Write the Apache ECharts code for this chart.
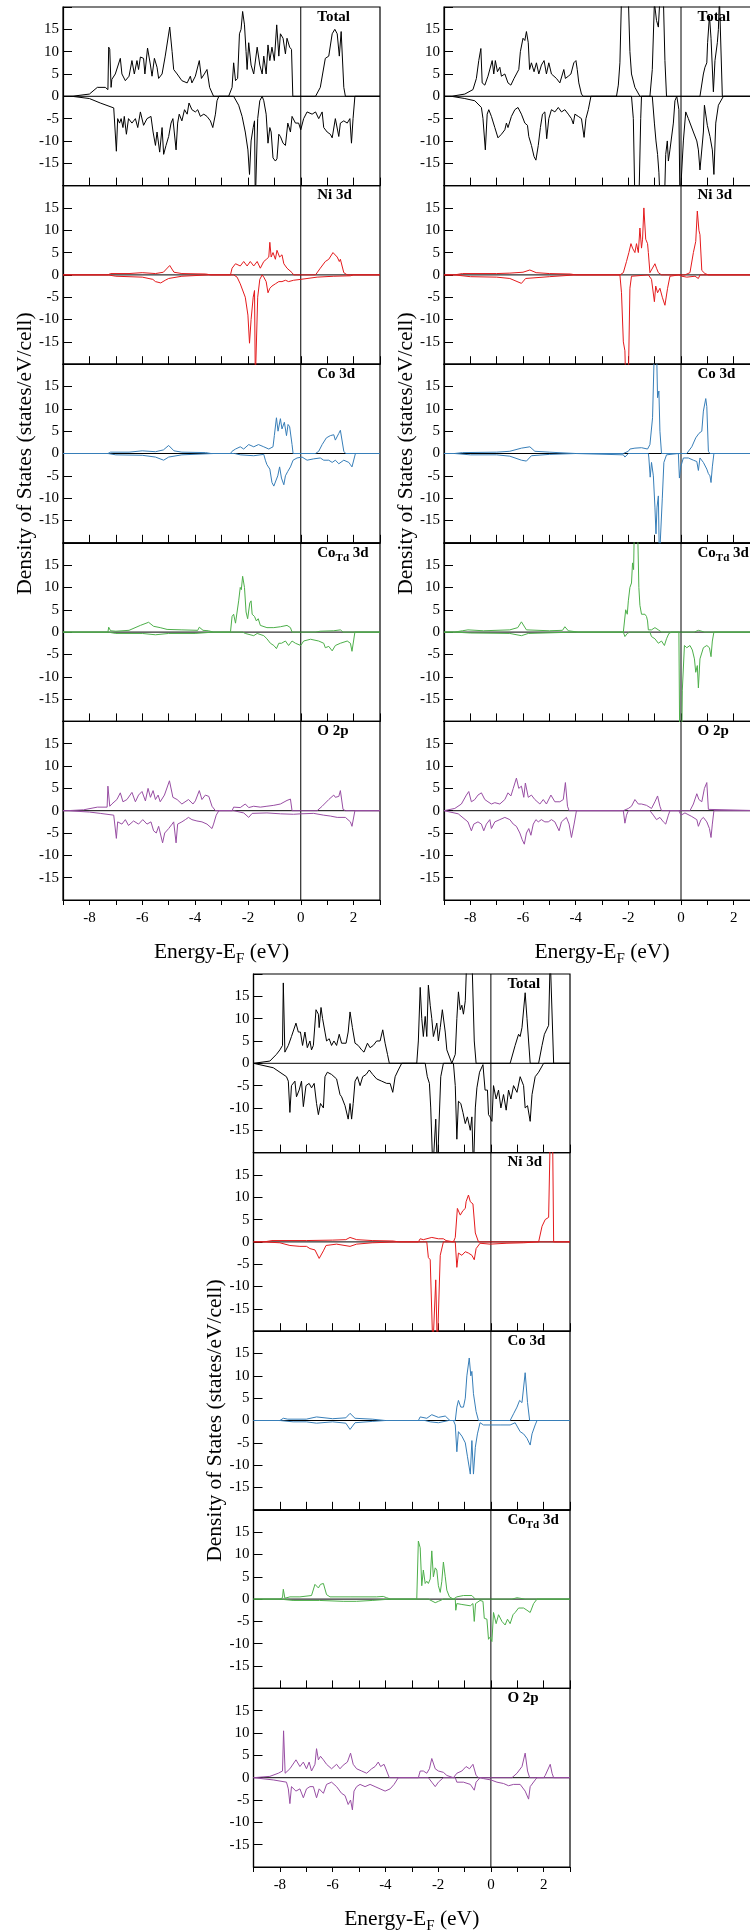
<!DOCTYPE html>
<html lang="en">
<head>
    <meta charset="utf-8">
    <title>Density of States</title>
    <script src="https://cdn.jsdelivr.net/npm/echarts@6/dist/echarts.min.js"></script>
    <style>
        html, body { margin: 0; padding: 0; background: #fff; }
        #main { width: 750px; height: 1930px; }
    </style>
</head>
<body>
<div id="main"></div>
<script>
    // ---- panel A (top left) : [energy, DOS] ----
    var aTotalUp = [[-9,0],[-8.66,0],[-8.0,0.5],[-7.7,2],[-7.4,2],[-7.3,1.5],[-7.27,11],[-7.23,10.5],[-7.18,2],[-7.15,3.8],[-7.02,5],[-6.83,8.5],[-6.77,5],[-6.64,3.5],[-6.5,4.5],[-6.39,8],[-6.3,5],[-6.2,8],[-6.14,6],[-6.07,8.8],[-5.95,8.5],[-5.9,5],[-5.8,10.8],[-5.69,7],[-5.63,4.5],[-5.54,8.5],[-5.44,6.5],[-5.38,4],[-5.25,5],[-5.13,9],[-4.96,15.5],[-4.87,10],[-4.81,6],[-4.68,5],[-4.5,3.5],[-4.3,3],[-4.18,4.5],[-4.12,3],[-3.99,4.5],[-3.84,8],[-3.76,4],[-3.65,5],[-3.55,6],[-3.45,2],[-3.3,0],[-2.73,0],[-2.6,2],[-2.54,7.5],[-2.47,3.5],[-2.39,4],[-2.32,14],[-2.26,15],[-2.2,19],[-2.13,16],[-2.07,10],[-2.03,6],[-1.97,12],[-1.88,7],[-1.78,5],[-1.65,11],[-1.55,7],[-1.46,5],[-1.4,9],[-1.31,5],[-1.24,11.5],[-1.17,8],[-1.09,11],[-1.0,8],[-0.91,16],[-0.83,9],[-0.77,14],[-0.67,13],[-0.58,9.5],[-0.52,13],[-0.42,11],[-0.35,10.5],[-0.3,0],[0.56,0],[0.74,2],[0.93,8.5],[1.06,9],[1.19,14],[1.29,15],[1.38,14],[1.46,9],[1.53,14.5],[1.63,2],[1.69,0],[3,0]];
    var aTotalDn = [[-9,0],[-8.66,0],[-8.0,-0.5],[-7.59,-1.5],[-7.08,-2.6],[-7.02,-3],[-6.98,-12.3],[-6.93,-5],[-6.86,-6],[-6.8,-5],[-6.73,-7],[-6.68,-4.5],[-6.6,-8.5],[-6.52,-5],[-6.39,-6],[-6.26,-5],[-6.17,-7],[-6.07,-3.5],[-5.95,-6.5],[-5.82,-5],[-5.67,-4.5],[-5.59,-8],[-5.5,-11],[-5.44,-8],[-5.34,-12.5],[-5.25,-7],[-5.19,-13],[-5.1,-11],[-5.0,-9],[-4.91,-6],[-4.84,-5],[-4.72,-12],[-4.66,-6],[-4.6,-4],[-4.5,-5.5],[-4.4,-3],[-4.3,-4],[-4.23,-1.5],[-4.12,-3],[-3.99,-3.5],[-3.9,-3],[-3.8,-4.5],[-3.67,-4],[-3.55,-4.5],[-3.42,-5.5],[-3.33,-7],[-3.23,-4],[-3.17,-1],[-3.1,0],[-2.54,0],[-2.35,-2],[-2.22,-4.5],[-2.1,-8],[-2.0,-12],[-1.94,-17.5],[-1.88,-10],[-1.8,-7],[-1.75,-5.5],[-1.72,-24],[-1.68,-24],[-1.63,-5],[-1.55,-1],[-1.46,0],[-1.4,-1],[-1.31,-4],[-1.24,-10.5],[-1.17,-7],[-1.12,-8],[-1.05,-13.8],[-0.96,-14.5],[-0.9,-14],[-0.83,-8.5],[-0.77,-9],[-0.67,-10.5],[-0.58,-11],[-0.49,-6],[-0.39,-8],[-0.33,-4.5],[-0.2,-6],[-0.08,-6],[0,-7.5],[0.11,-5],[0.24,-3.5],[0.43,-4],[0.56,-3.5],[0.68,-5],[0.81,-3.5],[0.87,-7],[1.0,-8],[1.12,-8.5],[1.19,-9.3],[1.31,-5],[1.44,-9],[1.5,-6],[1.63,-5.5],[1.76,-6],[1.86,-5],[1.92,-10.5],[1.98,-5],[2.05,0],[3,0]];
    var aNiUp = [[-9,0],[-7.3,0],[-7.2,0.3],[-6.5,0.3],[-6.0,0.5],[-5.5,0.3],[-5.2,0.6],[-4.96,2.1],[-4.8,0.6],[-4.5,0.3],[-3.6,0.2],[-3.4,0],[-2.66,0],[-2.6,1.5],[-2.47,2.5],[-2.29,2],[-2.16,3],[-2.03,2],[-1.91,3],[-1.78,2],[-1.65,3],[-1.53,1.5],[-1.4,3],[-1.3,3.5],[-1.21,4],[-1.17,7.3],[-1.12,4],[-1.05,5],[-0.96,3.5],[-0.9,5.5],[-0.8,4],[-0.71,4.5],[-0.64,2.5],[-0.52,1.5],[-0.33,0.5],[-0.27,0],[0.56,0],[0.74,1.5],[0.93,3],[1.06,3.5],[1.22,5],[1.38,4],[1.46,3],[1.5,3.5],[1.63,0.5],[1.76,0],[3,0]];
    var aNiDn = [[-9,0],[-7.3,0],[-7.0,-0.3],[-6.0,-0.5],[-5.6,-1],[-5.5,-1.5],[-5.3,-1.8],[-5.13,-1.2],[-5.0,-0.8],[-4.5,-0.3],[-3.5,0],[-2.54,0],[-2.41,-0.5],[-2.29,-2],[-2.1,-5],[-2.0,-9],[-1.94,-15.3],[-1.88,-10],[-1.8,-5],[-1.75,-3.5],[-1.72,-24],[-1.68,-24],[-1.63,-5],[-1.55,-1],[-1.46,0],[-1.4,-0.5],[-1.31,-1.5],[-1.24,-4],[-1.17,-3],[-1.09,-2.5],[-0.96,-2],[-0.83,-1.5],[-0.71,-1.5],[-0.58,-1.2],[-0.46,-1.5],[-0.27,-1.2],[0,-1],[0.62,-0.5],[1.25,-0.3],[1.88,-0.2],[2.0,0],[3,0]];
    var aCoUp = [[-9,0],[-7.3,0],[-7.2,0.3],[-6.5,0.3],[-6.0,0.6],[-5.5,0.4],[-5.2,0.8],[-5.0,1.8],[-4.8,0.6],[-4.5,0.3],[-3.6,0.2],[-3.4,0],[-2.66,0],[-2.6,0.5],[-2.47,1],[-2.29,1.5],[-2.16,1],[-1.97,2],[-1.78,1.5],[-1.6,2],[-1.4,1.5],[-1.21,1],[-1.05,1.5],[-1.0,4],[-0.92,8],[-0.86,5],[-0.77,7.8],[-0.71,5.5],[-0.62,7],[-0.54,4],[-0.48,6.5],[-0.42,6],[-0.33,2],[-0.29,0],[0.56,0],[0.68,0.5],[0.81,2],[0.97,3.5],[1.12,4],[1.25,4.2],[1.31,3],[1.44,4.5],[1.5,5.2],[1.63,0.5],[1.7,0],[3,0]];
    var aCoDn = [[-9,0],[-7.3,0],[-7.0,-0.3],[-6.0,-0.4],[-5.5,-0.8],[-5.19,-1.5],[-5.0,-0.8],[-4.5,-0.3],[-3.3,0],[-2.5,0],[-2.29,-0.3],[-1.78,-0.5],[-1.4,-0.2],[-1.34,-1.5],[-1.28,-2.5],[-1.17,-3.5],[-1.09,-6.5],[-1.02,-7.3],[-0.96,-7],[-0.87,-5],[-0.8,-3],[-0.73,-5.5],[-0.64,-7],[-0.58,-5],[-0.49,-4],[-0.39,-3],[-0.29,-1.5],[-0.14,-1],[0.05,-0.8],[0.24,-1.5],[0.49,-1.2],[0.74,-1],[0.87,-1.5],[1.06,-1.5],[1.19,-2],[1.31,-1.5],[1.44,-2.3],[1.63,-1.5],[1.82,-2],[1.88,-2.5],[1.94,-3],[2.07,0],[3,0]];
    var aCoTdUp = [[-9,0],[-7.3,0],[-7.27,1.1],[-7.2,0.3],[-7.0,0.2],[-6.5,0.4],[-6.07,1.5],[-5.76,2.2],[-5.57,1.3],[-5.32,1],[-5.06,0.6],[-4.5,0.5],[-3.9,0.4],[-3.84,1.1],[-3.7,0.4],[-3.5,0.3],[-3.3,0],[-2.66,0],[-2.6,3.5],[-2.54,4],[-2.47,2],[-2.35,7],[-2.29,10],[-2.25,9.5],[-2.2,12.5],[-2.13,10],[-2.07,4.5],[-2.01,3],[-1.93,6.5],[-1.88,7],[-1.84,4],[-1.75,3.5],[-1.68,2.5],[-1.61,3],[-1.53,1.5],[-1.28,1],[-1.02,1],[-0.77,1.2],[-0.52,1.5],[-0.39,1],[-0.33,0],[0.56,0],[0.74,0.2],[1.25,0.3],[1.5,0.5],[1.6,0],[3,0]];
    var aCoTdDn = [[-9,0],[-7.3,0],[-7.0,-0.3],[-6.0,-0.3],[-5.5,-0.6],[-5.0,-0.3],[-4.0,-0.3],[-3.3,0],[-2.2,0],[-2.1,-0.3],[-1.78,-0.8],[-1.65,-0.3],[-1.4,-0.8],[-1.28,-1.5],[-1.15,-2.5],[-1.02,-3],[-0.92,-3.7],[-0.83,-2.5],[-0.73,-2.5],[-0.58,-2],[-0.46,-3],[-0.33,-2],[-0.2,-2.5],[0,-3],[0.11,-2],[0.37,-1.6],[0.68,-2],[0.87,-2.5],[0.93,-3.5],[1.06,-3.2],[1.19,-4.2],[1.31,-3],[1.5,-2.5],[1.76,-2],[1.88,-2.5],[1.94,-4.3],[2.05,0],[3,0]];
    var aOUp = [[-9,0],[-8.85,0],[-8.22,0.2],[-7.7,0.8],[-7.33,0.8],[-7.3,5.5],[-7.23,1],[-7.15,1.5],[-6.96,2.5],[-6.83,4],[-6.73,2],[-6.58,2.5],[-6.39,4.1],[-6.26,2],[-6.14,3.5],[-6.01,4.3],[-5.88,2.2],[-5.78,5],[-5.69,3],[-5.59,4.5],[-5.5,2.5],[-5.4,3.5],[-5.32,2],[-5.16,3.5],[-4.97,6.7],[-4.84,3],[-4.68,2.5],[-4.5,1.5],[-4.25,2.5],[-4.08,1.5],[-3.99,2.2],[-3.84,4.5],[-3.74,2.5],[-3.61,3.5],[-3.48,3.2],[-3.36,1],[-3.23,0],[-2.6,0],[-2.54,0.8],[-2.29,0.7],[-2.1,1.5],[-1.97,0.7],[-1.78,1],[-1.53,0.8],[-1.28,1],[-1.02,1.2],[-0.77,1.5],[-0.52,2.3],[-0.39,2.6],[-0.33,0],[0.62,0],[0.81,1],[1.06,2.5],[1.25,3.5],[1.31,3],[1.44,3.2],[1.5,4.5],[1.6,0.3],[1.69,0],[3,0]];
    var aODn = [[-9,0],[-8.85,0],[-8.0,-0.3],[-7.59,-0.6],[-7.08,-1],[-6.98,-6.2],[-6.93,-2.5],[-6.77,-3],[-6.64,-2],[-6.52,-3.3],[-6.33,-2.3],[-6.14,-3],[-5.98,-2],[-5.82,-3],[-5.67,-2.5],[-5.57,-4.5],[-5.47,-5],[-5.38,-3.5],[-5.23,-7.2],[-5.15,-5],[-5.0,-4],[-4.87,-3],[-4.81,-2.5],[-4.72,-7.2],[-4.66,-3],[-4.5,-2.5],[-4.37,-2],[-4.25,-1.5],[-4.12,-2],[-3.93,-2.3],[-3.74,-2.5],[-3.55,-3],[-3.36,-4],[-3.3,-3],[-3.2,-1],[-3.1,0],[-2.54,0],[-2.16,-0.5],[-1.97,-1.5],[-1.84,-0.6],[-1.28,-0.5],[-0.77,-0.7],[-0.27,-0.8],[0,-0.7],[0.49,-0.6],[0.87,-1],[1.12,-1.2],[1.38,-1.5],[1.69,-1.5],[1.88,-2.5],[1.94,-3.5],[2.05,0],[3,0]];

    // ---- panel B (top right) ----
    var bTotalUp = [[-9,0],[-8.72,0],[-8.21,0.5],[-7.9,1.5],[-7.77,4],[-7.68,8],[-7.6,10.7],[-7.55,3],[-7.45,2.5],[-7.33,4.5],[-7.17,8],[-7.11,5],[-7.05,8],[-6.97,5.5],[-6.88,6.5],[-6.82,4.5],[-6.69,5],[-6.57,3],[-6.46,2.5],[-6.34,4],[-6.25,5],[-6.16,6],[-6.1,10],[-6.0,13],[-5.93,12.5],[-5.87,14.5],[-5.8,12],[-5.75,6],[-5.68,7.5],[-5.58,5.5],[-5.49,7.5],[-5.4,5],[-5.3,7],[-5.2,8],[-5.11,5],[-5.02,7.5],[-4.92,5],[-4.73,4],[-4.6,3],[-4.45,6],[-4.39,4],[-4.28,4.5],[-4.18,5],[-4.07,7.5],[-3.99,8],[-3.94,6],[-3.88,3],[-3.78,0.5],[-3.71,0],[-2.45,0],[-2.38,2.5],[-2.32,7.5],[-2.26,22],[-2.1,26],[-2.0,22],[-1.94,10],[-1.88,5],[-1.75,2],[-1.56,0],[-1.18,0],[-1.09,6],[-1.01,21],[-0.93,17],[-0.86,15.5],[-0.8,22],[-0.67,22],[-0.61,8],[-0.55,0],[0.72,0],[0.85,5],[0.91,6.5],[0.98,7.5],[1.01,12],[1.08,18],[1.14,13],[1.23,1],[1.29,8],[1.38,12],[1.42,15],[1.46,22],[1.51,22],[1.57,0],[3,0]];
    var bTotalDn = [[-9,0],[-8.72,0],[-8.21,-0.5],[-7.83,-1],[-7.58,-2.5],[-7.52,-5],[-7.43,-12],[-7.36,-4],[-7.3,-3],[-7.2,-4.5],[-7.07,-7],[-6.95,-9.3],[-6.82,-8.5],[-6.69,-7.5],[-6.63,-6],[-6.57,-7],[-6.44,-4.5],[-6.31,-3],[-6.19,-2.5],[-6.06,-4],[-5.93,-6],[-5.83,-6.5],[-5.78,-9],[-5.68,-11],[-5.58,-13.5],[-5.51,-14.3],[-5.42,-11],[-5.34,-7],[-5.26,-4],[-5.17,-3.5],[-5.1,-9.5],[-5.02,-5],[-4.92,-3],[-4.79,-3.5],[-4.66,-2.5],[-4.54,-3.5],[-4.41,-3],[-4.28,-4],[-4.16,-5],[-4.09,-6.2],[-4.03,-4],[-3.9,-4.5],[-3.78,-5],[-3.68,-9.2],[-3.61,-5],[-3.52,-3],[-3.42,0],[-1.88,0],[-1.81,-5],[-1.75,-24],[-1.6,-24],[-1.53,-5],[-1.5,0],[-1.09,0],[-1.01,-6],[-0.95,-10],[-0.89,-13],[-0.84,-17],[-0.79,-24],[-0.63,-24],[-0.58,-13],[-0.52,-10],[-0.48,-14.5],[-0.42,-12],[-0.29,-6],[-0.23,-1],[-0.16,0],[-0.08,-3],[-0.04,-24],[0.03,-24],[0.09,-10],[0.18,-3.5],[0.28,-5],[0.47,-8],[0.6,-10],[0.66,-12],[0.72,-16.5],[0.85,-8],[0.89,-2],[1.0,-6.5],[1.1,-9],[1.19,-12],[1.25,-17.5],[1.32,-6],[1.42,-2],[1.61,0],[3,0]];
    var bNiUp = [[-9,0],[-8.6,0],[-8.3,0.3],[-7,0.3],[-6.5,0.4],[-6.0,0.6],[-5.74,1.1],[-5.5,0.5],[-5.0,0.3],[-4.2,0.2],[-4.0,0],[-2.32,0],[-2.19,0.5],[-2.07,3],[-1.98,5],[-1.9,7],[-1.84,6],[-1.75,5],[-1.69,7],[-1.62,5],[-1.56,10.5],[-1.5,6],[-1.46,8],[-1.41,15],[-1.34,8],[-1.27,7],[-1.24,5],[-1.18,0.5],[-0.99,2.5],[-0.93,1.5],[-0.86,0.5],[-0.74,0],[0.15,0],[0.34,0.5],[0.47,5],[0.56,7.5],[0.62,14.3],[0.68,10],[0.72,9],[0.79,1],[0.91,0.3],[1.04,0],[3,0]];
    var bNiDn = [[-9,0],[-8.6,0],[-8.0,-0.4],[-7.0,-0.5],[-6.5,-0.8],[-6.06,-1.9],[-5.9,-0.8],[-5.0,-0.4],[-4.0,0],[-2.32,0],[-2.26,-4],[-2.19,-15],[-2.13,-17],[-2.1,-24],[-2.0,-24],[-1.94,-3],[-1.88,-0.3],[-1.24,0],[-1.12,-1],[-1.01,-6],[-0.96,-2.5],[-0.89,-4],[-0.8,-3],[-0.71,-5],[-0.61,-6.8],[-0.51,-3],[-0.42,-0.3],[-0.36,0],[-0.08,0],[0.03,-0.3],[0.22,-0.5],[0.53,-0.3],[0.66,-0.8],[0.72,0],[3,0]];
    var bCoUp = [[-9,0],[-8.6,0],[-8.3,0.2],[-7,0.3],[-6.5,0.5],[-6.06,1.2],[-5.74,1.5],[-5.55,0.5],[-5.0,0.3],[-4.0,0],[-2.19,0],[-2.0,0.5],[-1.94,1],[-1.75,1.2],[-1.5,1.3],[-1.27,1],[-1.18,2],[-1.08,8],[-1.01,24],[-0.93,24],[-0.89,12.5],[-0.84,14],[-0.8,5],[-0.74,0],[0.22,0],[0.41,1.5],[0.56,3.5],[0.68,4.5],[0.79,5],[0.85,9.5],[0.94,12.3],[0.98,10.5],[1.04,0.5],[1.1,0],[3,0]];
    var bCoDn = [[-9,0],[-8.6,0],[-8.0,-0.3],[-7.0,-0.3],[-6.5,-0.6],[-6.06,-1.5],[-5.87,-1.7],[-5.68,-0.5],[-5.0,-0.2],[-4.0,0],[-2.19,-0.3],[-2.13,-0.8],[-2.0,0],[-1.24,0],[-1.22,-1],[-1.17,-5.3],[-1.12,-2],[-1.05,-5],[-0.99,-12],[-0.95,-18],[-0.91,-12],[-0.86,-9.5],[-0.82,-24],[-0.76,-24],[-0.71,-10],[-0.65,-2],[-0.55,-0.3],[-0.48,0],[-0.1,0],[-0.06,-5.5],[-0.01,-3],[0.09,-1],[0.28,-1],[0.47,-1.5],[0.6,-1.8],[0.66,-3.8],[0.72,-1],[0.85,-2],[0.98,-3.5],[1.04,-4.5],[1.1,-5],[1.14,-6.5],[1.19,-3],[1.25,0],[3,0]];
    var bCoTdUp = [[-9,0],[-8.6,0],[-8.3,0.3],[-8.09,0.5],[-7.5,0.3],[-6.5,0.5],[-6.2,1],[-6.06,2.3],[-5.87,0.5],[-5.0,0.3],[-4.5,0.4],[-4.41,1.2],[-4.28,0.3],[-3.9,0],[-2.19,0],[-2.1,5],[-2.04,4],[-2.0,7],[-1.94,10],[-1.88,11],[-1.84,15.5],[-1.8,14],[-1.77,24],[-1.65,24],[-1.6,10],[-1.56,6],[-1.5,4],[-1.37,4],[-1.31,3.5],[-1.27,2.5],[-1.24,0.5],[-1.12,0.5],[-0.99,1],[-0.86,0.5],[-0.74,0],[0.5,0],[0.66,0.4],[0.9,0],[3,0]];
    var bCoTdDn = [[-9,0],[-8.6,0],[-8.0,-0.2],[-6.5,-0.3],[-6.06,-0.8],[-5.8,-0.3],[-4.0,0],[-2.19,0],[-2.13,-1],[-2.04,-0.3],[-1.95,0],[-1.18,0],[-1.12,-1],[-0.99,-1.5],[-0.86,-2.5],[-0.74,-2],[-0.63,-3],[-0.55,-1.5],[-0.46,-0.3],[-0.36,0],[-0.08,0],[-0.05,-24],[0.03,-24],[0.05,-13],[0.13,-3],[0.22,-3.5],[0.34,-3],[0.43,-4],[0.51,-6],[0.56,-9],[0.62,-7.5],[0.66,-12.5],[0.72,-6],[0.85,-3.5],[0.98,-3],[1.08,-3.5],[1.14,-5.5],[1.19,-2],[1.25,0],[3,0]];
    var bOUp = [[-9,0],[-8.97,0],[-8.59,0.5],[-8.34,1.5],[-8.15,3.5],[-8.06,4.3],[-7.96,2],[-7.83,2.5],[-7.71,3.5],[-7.58,4],[-7.45,2.5],[-7.33,2],[-7.2,1.5],[-7.07,1.8],[-6.88,1.5],[-6.69,2.5],[-6.57,4],[-6.46,3.3],[-6.37,5],[-6.25,7.3],[-6.16,5],[-6.06,5.5],[-5.97,3],[-5.91,6.2],[-5.8,3],[-5.68,3.5],[-5.55,2.5],[-5.36,1.5],[-5.23,2.5],[-5.11,1.5],[-4.94,3.5],[-4.79,2],[-4.6,2],[-4.47,2.5],[-4.39,6.3],[-4.31,1],[-4.25,0],[-2.19,0],[-2.0,0.5],[-1.88,1],[-1.75,2.5],[-1.62,1.5],[-1.5,1.5],[-1.31,1.2],[-1.12,0.5],[-0.99,2],[-0.89,3.3],[-0.8,1],[-0.74,0],[0.34,0],[0.47,1.5],[0.6,3.8],[0.68,2.5],[0.79,2],[0.89,5],[0.98,6.3],[1.04,0.3],[1.1,0],[3,0]];
    var bODn = [[-9,0],[-8.97,0],[-8.46,-0.7],[-8.09,-2.5],[-7.96,-4.5],[-7.87,-3],[-7.71,-2.5],[-7.58,-3],[-7.49,-4.5],[-7.39,-3],[-7.26,-2],[-7.2,-4],[-7.07,-2.5],[-6.88,-2],[-6.69,-1.5],[-6.5,-2],[-6.37,-3],[-6.25,-3.5],[-6.12,-5],[-6.03,-6.5],[-5.95,-7.5],[-5.87,-5],[-5.78,-4],[-5.7,-5.5],[-5.61,-3],[-5.51,-2],[-5.42,-2.5],[-5.3,-2],[-5.17,-2.5],[-5.04,-2.5],[-4.92,-2],[-4.79,-2.5],[-4.63,-4.5],[-4.54,-2.5],[-4.35,-1.5],[-4.25,-3],[-4.16,-6],[-4.06,-3],[-3.97,0],[-2.19,0],[-2.13,-2.8],[-2.07,-1],[-2.0,0],[-1.18,0],[-1.05,-1],[-0.93,-2],[-0.8,-1.5],[-0.67,-2.5],[-0.58,-3],[-0.48,-1],[-0.42,0],[-0.08,0],[0,-1],[0.15,-0.5],[0.41,-1.3],[0.6,-2],[0.66,-3.5],[0.76,-2],[0.85,-1.5],[0.98,-2.5],[1.08,-4],[1.14,-6],[1.19,-3],[1.25,0],[3,0]];

    // ---- panel C (bottom) ----
    var cTotalUp = [[-9,0],[-8.95,0],[-8.38,0.5],[-8.13,2],[-8.0,3],[-7.9,4],[-7.87,18],[-7.81,2.5],[-7.68,4],[-7.56,6],[-7.39,9],[-7.3,7],[-7.22,7],[-7.14,4],[-7.05,7],[-6.96,3.5],[-6.86,5],[-6.8,3],[-6.73,4],[-6.63,12],[-6.54,11],[-6.51,8],[-6.44,12.5],[-6.38,10],[-6.29,7],[-6.23,5],[-6.13,5.5],[-6.04,4],[-5.95,5],[-5.85,4],[-5.75,6.5],[-5.66,4.5],[-5.49,4.5],[-5.41,7],[-5.34,11.5],[-5.25,8],[-5.15,4.5],[-5.03,4],[-4.9,3],[-4.81,2.5],[-4.68,4.5],[-4.58,3.5],[-4.46,4],[-4.33,5],[-4.2,5],[-4.1,7.5],[-4.01,4.5],[-3.92,2],[-3.85,0],[-2.81,0],[-2.75,5],[-2.68,17],[-2.62,10],[-2.56,6],[-2.49,10.5],[-2.43,6],[-2.37,17.5],[-2.3,13],[-2.24,10],[-2.18,6],[-2.05,9],[-1.99,5],[-1.92,8],[-1.84,12],[-1.73,7],[-1.67,3],[-1.48,0],[-1.35,2],[-1.29,10],[-1.23,16],[-1.16,12],[-1.1,13],[-1.04,11],[-0.97,14],[-0.91,24],[-0.72,24],[-0.63,5],[-0.56,0],[0.73,0],[0.92,4],[1.05,6.5],[1.11,6],[1.18,8],[1.3,15.8],[1.37,10],[1.49,0],[1.81,0],[1.94,4],[2.03,6.5],[2.19,8.5],[2.25,24],[2.32,24],[2.38,0],[3,0]];
    var cTotalDn = [[-9,0],[-8.95,0],[-8.25,-1],[-7.75,-3],[-7.68,-4],[-7.62,-11],[-7.56,-5],[-7.43,-4],[-7.37,-7.5],[-7.27,-6],[-7.18,-4],[-7.11,-9.7],[-7.01,-5],[-6.89,-4.5],[-6.8,-5.5],[-6.7,-4.5],[-6.61,-9],[-6.54,-11.5],[-6.46,-9],[-6.35,-10],[-6.29,-3],[-6.2,-2],[-6.04,-2.5],[-5.85,-3.5],[-5.72,-7],[-5.66,-7.5],[-5.53,-9.5],[-5.41,-12.5],[-5.34,-9],[-5.28,-12.5],[-5.22,-9],[-5.15,-4],[-5.06,-3],[-4.96,-5],[-4.86,-3],[-4.73,-2.5],[-4.61,-1.5],[-4.48,-2.5],[-4.33,-3.5],[-4.14,-4],[-3.95,-4.5],[-3.82,-4.5],[-3.72,-6.5],[-3.63,-3],[-3.51,-1.5],[-3.38,0],[-2.49,0],[-2.41,-3],[-2.33,-4.5],[-2.28,-10],[-2.2,-24],[-2.14,-24],[-2.09,-12.5],[-2.03,-24],[-1.97,-24],[-1.9,-3],[-1.8,0],[-1.42,0],[-1.35,-5],[-1.29,-17],[-1.23,-8.5],[-1.14,-9],[-1.06,-11],[-0.97,-13.5],[-0.89,-12],[-0.78,-15],[-0.72,-12],[-0.66,-24],[-0.59,-10],[-0.53,-5.5],[-0.43,-2],[-0.3,-0.3],[-0.22,-6],[-0.13,-6],[-0.09,-11.5],[-0.03,-12],[0.04,-13],[0.1,-5],[0.2,-8],[0.29,-6],[0.38,-10],[0.48,-7],[0.58,-10.5],[0.67,-6],[0.76,-8],[0.86,-5],[0.99,-6.5],[1.11,-3],[1.24,-5],[1.3,-10],[1.39,-9.5],[1.49,-13],[1.56,-7],[1.68,-3],[1.81,-2],[2.0,0],[3,0]];
    var cNiUp = [[-9,0],[-8.6,0],[-8.3,0.3],[-7.0,0.3],[-6.0,0.4],[-5.5,0.5],[-5.34,1],[-5.09,0.5],[-4.5,0.3],[-3.7,0.2],[-3.5,0],[-2.75,0],[-2.68,0.7],[-2.56,0.5],[-2.24,1],[-1.99,0.7],[-1.8,0.7],[-1.7,0.3],[-1.42,0],[-1.35,1],[-1.27,7.5],[-1.16,6],[-1.06,7],[-0.97,7.5],[-0.94,9],[-0.85,10.5],[-0.78,9],[-0.68,8.5],[-0.59,2],[-0.47,0],[1.81,0],[1.94,3.5],[2.06,5],[2.19,5.5],[2.25,24],[2.34,24],[2.38,0],[3,0]];
    var cNiDn = [[-9,0],[-8.6,0],[-8.0,-0.2],[-7.62,-0.8],[-7.24,-1],[-6.99,-1],[-6.86,-1.5],[-6.67,-1.8],[-6.51,-3.7],[-6.35,-2],[-6.25,-0.8],[-5.85,-0.5],[-5.34,-1],[-5.09,-0.5],[-4.5,-0.2],[-3.5,0],[-2.43,0],[-2.37,-3.5],[-2.3,-4],[-2.2,-24],[-2.14,-24],[-2.09,-8.5],[-2.03,-24],[-1.97,-24],[-1.92,-3],[-1.8,0],[-1.35,0],[-1.29,-5.7],[-1.23,-2.5],[-1.1,-3],[-0.97,-2.2],[-0.85,-2.5],[-0.72,-3],[-0.63,-4],[-0.56,-1.5],[-0.41,-0.3],[-0.03,-0.5],[0.61,-0.3],[1.24,-0.2],[1.75,0],[3,0]];
    var cCoUp = [[-9,0],[-8.0,0],[-7.87,0.5],[-7.7,0.3],[-7.0,0.3],[-6.61,0.8],[-6.0,0.4],[-5.5,0.6],[-5.34,1.6],[-5.15,0.5],[-4.5,0.3],[-4.0,0],[-2.75,0],[-2.68,0.8],[-2.43,0.5],[-2.24,1.3],[-1.99,0.7],[-1.73,1],[-1.55,0],[-1.35,0],[-1.29,3],[-1.23,4.5],[-1.14,3],[-1.04,3],[-0.97,5],[-0.91,10],[-0.82,14],[-0.76,10],[-0.72,11],[-0.66,6],[-0.56,2],[-0.47,0],[0.73,0],[0.86,1.5],[0.99,3],[1.09,4.5],[1.18,4],[1.3,10.7],[1.39,4],[1.47,0],[3,0]];
    var cCoDn = [[-9,0],[-8.0,0],[-7.5,-0.3],[-7.0,-0.3],[-6.61,-0.6],[-6.0,-0.3],[-5.5,-0.6],[-5.34,-2],[-5.15,-0.5],[-4.5,-0.2],[-4.0,0],[-2.5,0],[-2.3,-0.3],[-1.99,-0.5],[-1.6,0],[-1.42,0],[-1.35,-1],[-1.29,-7],[-1.23,-2.5],[-1.1,-3.5],[-0.97,-5],[-0.89,-8],[-0.78,-12],[-0.72,-4.5],[-0.66,-12],[-0.59,-6],[-0.51,-3],[-0.41,-0.5],[-0.28,-1],[-0.03,-1],[0.35,-1],[0.73,-1],[0.92,-0.5],[1.11,-2.5],[1.24,-3],[1.37,-4],[1.49,-5.5],[1.56,-3],[1.68,-1],[1.75,0],[3,0]];
    var cCoTdUp = [[-9,0],[-8.0,0],[-7.9,0.3],[-7.87,2.2],[-7.81,0.2],[-7.62,0.5],[-7.24,0.5],[-6.8,0.8],[-6.67,3.3],[-6.54,2.5],[-6.46,3.3],[-6.35,3.5],[-6.23,1],[-6.1,0.5],[-5.34,0.5],[-4.33,0.5],[-4.08,0.6],[-3.95,0.3],[-3.8,0],[-2.81,0],[-2.75,13],[-2.68,11.5],[-2.62,3],[-2.56,6.5],[-2.49,3.5],[-2.43,4],[-2.37,3.5],[-2.3,4.5],[-2.24,10.8],[-2.18,5],[-2.11,7],[-2.05,6.5],[-1.99,3],[-1.92,1.5],[-1.86,4],[-1.8,8.3],[-1.73,5],[-1.67,2],[-1.57,0.5],[-1.42,0],[-1.29,0.5],[-1.04,0.8],[-0.72,0.8],[-0.59,0],[0.8,0],[0.99,0.3],[1.3,0],[3,0]];
    var cCoTdDn = [[-9,0],[-8.0,0],[-7.5,-0.3],[-6.5,-0.3],[-5.6,-0.5],[-5.1,-0.5],[-4.5,-0.3],[-3.8,0],[-2.37,0],[-2.11,-0.8],[-1.99,-0.5],[-1.8,0],[-1.35,0],[-1.33,-2.5],[-1.29,-1],[-1.1,-1.2],[-0.78,-1.5],[-0.68,-1],[-0.63,-5],[-0.58,-1],[-0.41,-0.3],[-0.3,-0.5],[-0.25,-4.3],[-0.15,-4.5],[-0.09,-9],[-0.03,-8.5],[0.04,-9.5],[0.1,-3],[0.2,-5.5],[0.29,-3.5],[0.42,-5],[0.54,-5.8],[0.63,-4.5],[0.73,-5.5],[0.84,-3.5],[0.92,-3],[1.05,-2],[1.24,-2],[1.37,-2.5],[1.49,-3],[1.62,-1],[1.75,0],[3,0]];
    var cOUp = [[-9,0],[-8.95,0],[-8.38,0.3],[-8.06,1],[-7.9,1.5],[-7.86,10.5],[-7.8,1],[-7.62,2],[-7.39,4],[-7.24,2.5],[-7.11,3.5],[-6.99,2],[-6.89,3.5],[-6.8,1.5],[-6.67,3],[-6.61,6.5],[-6.54,4],[-6.46,4.8],[-6.35,4],[-6.23,3],[-6.04,2],[-5.85,3],[-5.72,2],[-5.6,2.8],[-5.44,3.5],[-5.32,5.5],[-5.22,3],[-5.09,2],[-4.9,1.5],[-4.71,1],[-4.52,2],[-4.39,2.5],[-4.27,3.5],[-4.18,2.5],[-4.05,3],[-3.95,1.5],[-3.85,0],[-2.75,0],[-2.68,1.5],[-2.56,1.5],[-2.43,1],[-2.33,2],[-2.24,4.3],[-2.11,2],[-1.99,1.5],[-1.8,1.2],[-1.67,0.5],[-1.42,0],[-1.29,1],[-1.1,1.5],[-0.94,2.5],[-0.81,2],[-0.68,3],[-0.56,0.5],[-0.47,0],[0.8,0],[0.99,1],[1.18,2.5],[1.3,5.5],[1.39,1.5],[1.47,0],[2.0,0],[2.06,0.5],[2.25,3],[2.32,1],[2.38,0],[3,0]];
    var cODn = [[-9,0],[-8.95,0],[-8.25,-0.5],[-7.75,-1],[-7.68,-2.5],[-7.62,-5.8],[-7.56,-2],[-7.39,-3],[-7.24,-2.5],[-7.11,-4.5],[-6.99,-2.5],[-6.86,-2],[-6.73,-2],[-6.61,-4.5],[-6.51,-2.5],[-6.35,-3.5],[-6.23,-1.5],[-6.04,-1],[-5.85,-2],[-5.66,-3.5],[-5.53,-4],[-5.41,-6],[-5.32,-5],[-5.25,-7.2],[-5.19,-3],[-5.09,-2],[-4.96,-1.5],[-4.77,-2],[-4.58,-1.5],[-4.39,-2],[-4.2,-2.5],[-4.01,-3],[-3.82,-2.5],[-3.67,-1.5],[-3.51,0],[-2.37,0],[-2.24,-1],[-2.11,-2],[-1.99,-1],[-1.8,0],[-1.35,0],[-1.29,-1],[-1.04,-1],[-0.78,-1.5],[-0.63,-2.8],[-0.56,-1],[-0.41,0],[-0.28,-0.2],[0,-0.5],[0.23,-1],[0.48,-1.3],[0.67,-1.8],[0.86,-1.5],[1.11,-1.5],[1.3,-3],[1.43,-4.8],[1.49,-2],[1.68,-0.5],[1.75,0],[3,0]];

    var rowLabels = ['Total', 'Ni 3d', 'Co 3d', '{b|Co}{t|Td}{b| 3d}', 'O 2p'];
    var rowColors = ['#000000', '#e41a1c', '#377eb8', '#4daf4a', '#984ea3'];

    var font = 'Liberation Serif';
    var rowH = 178.6;

    // 三个面板的位置
    var panels = [
        {left: 63, top: 7, width: 317,
         sets: [[aTotalUp, aTotalDn], [aNiUp, aNiDn], [aCoUp, aCoDn], [aCoTdUp, aCoTdDn], [aOUp, aODn]]},
        {left: 444, top: 7, width: 316,
         sets: [[bTotalUp, bTotalDn], [bNiUp, bNiDn], [bCoUp, bCoDn], [bCoTdUp, bCoTdDn], [bOUp, bODn]]},
        {left: 253.5, top: 974, width: 316.5,
         sets: [[cTotalUp, cTotalDn], [cNiUp, cNiDn], [cCoUp, cCoDn], [cCoTdUp, cCoTdDn], [cOUp, cODn]]}
    ];

    var grids = [], xAxes = [], yAxes = [], series = [], graphics = [];

    function zeroLine(gi, data) {
        return {
            type: 'line', xAxisIndex: gi, yAxisIndex: gi, data: data,
            symbol: 'none', silent: true, z: 1,
            lineStyle: {color: '#000', width: 1}
        };
    }

    panels.forEach(function (p) {
        for (var r = 0; r < 5; r++) {
            var gi = grids.length;
            var top = p.top + r * rowH;
            var last = (r === 4);

            // 右边的面板超出画布, 不要让 grid 自动缩回
            grids.push({
                left: p.left, top: top, width: p.width, height: rowH,
                outerBoundsMode: 'none', containLabel: false,
                show: true, borderColor: '#000', borderWidth: 1.2
            });
            xAxes.push({
                type: 'value', gridIndex: gi, min: -9, max: 3, interval: 1,
                axisLine: {show: true, onZero: false, lineStyle: {color: '#000', width: 1.2}},
                axisTick: {show: true, inside: !last, length: last ? 5 : 8, lineStyle: {color: '#000', width: 1}},
                axisLabel: {
                    show: last, margin: 11, fontFamily: font, fontSize: 15, color: '#000',
                    formatter: function (v) { return v % 2 === 0 ? String(v) : ''; }
                },
                splitLine: {show: false}
            });
            yAxes.push({
                type: 'value', gridIndex: gi, min: -20, max: 20, interval: 5,
                axisLine: {show: true, onZero: false, lineStyle: {color: '#000', width: 1.2}},
                axisTick: {show: true, inside: true, length: 9, lineStyle: {color: '#000', width: 1}},
                axisLabel: {
                    margin: 4, fontFamily: font, fontSize: 15, color: '#000',
                    formatter: function (v) { return Math.abs(v) === 20 ? '' : String(v); }
                },
                splitLine: {show: false}
            });

            series.push(zeroLine(gi, [[-9, 0], [3, 0]]));
            series.push(zeroLine(gi, [[0, -20], [0, 20]]));
            for (var s = 0; s < 2; s++) {
                series.push({
                    type: 'line', xAxisIndex: gi, yAxisIndex: gi, data: p.sets[r][s],
                    symbol: 'none', z: 2, clip: true,
                    lineStyle: {color: rowColors[r], width: 1}
                });
            }

            // 标签 Total / Ni 3d ...
            graphics.push({
                type: 'text', x: p.left + p.width * 0.75 + 16.5, y: top + 10,
                style: {
                    text: rowLabels[r], fill: '#000', fontFamily: font, fontSize: 15, fontWeight: 'bold',
                    align: 'left', verticalAlign: 'middle',
                    rich: {
                        b: {fontFamily: font, fontSize: 15, fontWeight: 'bold', fill: '#000'},
                        t: {fontFamily: font, fontSize: 11, fontWeight: 'bold', fill: '#000', padding: [10, 0, 0, 0]}
                    }
                }
            });
        }

        // y 轴标题
        graphics.push({
            type: 'text', x: p.left - 38, y: p.top + 2.5 * rowH, rotation: Math.PI / 2,
            style: {
                text: 'Density of States (states/eV/cell)', fill: '#000',
                fontFamily: font, fontSize: 21.5, align: 'center', verticalAlign: 'middle'
            }
        });
        // x 轴标题
        graphics.push({
            type: 'text', x: p.left + p.width / 2, y: p.top + 5 * rowH + 52,
            style: {
                text: '{a|Energy-E}{s|F}{a| (eV)}', align: 'center', verticalAlign: 'middle',
                rich: {
                    a: {fontFamily: font, fontSize: 21.5, fill: '#000'},
                    s: {fontFamily: font, fontSize: 15, fill: '#000', padding: [14, 0, 0, 0]}
                }
            }
        });
    });

    var myChart = echarts.init(document.getElementById('main'));
    var option = {
        animation: false,
        backgroundColor: '#fff',
        grid: grids,
        xAxis: xAxes,
        yAxis: yAxes,
        series: series,
        graphic: graphics
    };
    myChart.setOption(option);
</script>
</body>
</html>
